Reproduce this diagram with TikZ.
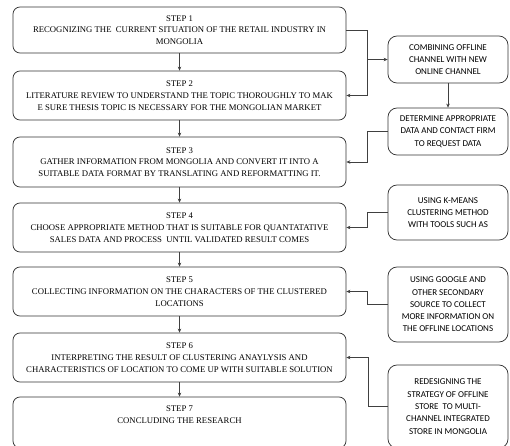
\documentclass[tikz,border=0pt]{standalone}
\usepackage{fontspec}
\setmainfont{Liberation Serif}
\newfontfamily\boxsans{Carlito}
\usetikzlibrary{arrows.meta,positioning}
\begin{document}
\begin{tikzpicture}[x=1pt,y=-1pt,
  stepbox/.style={draw=black!80,line width=0.75pt,rounded corners=7pt,minimum width=333pt,inner sep=0pt,align=center,font=\fontsize{8.7}{11.8}\selectfont},
  sidebox/.style={draw=black!80,line width=0.75pt,rounded corners=9pt,minimum width=120pt,inner sep=0pt,align=center,font=\boxsans\fontsize{9}{12.3}\selectfont},
  arr/.style={draw=black!75,line width=0.6pt,-{Stealth[length=4pt,width=3.5pt]}},
  ln/.style={draw=black!75,line width=0.6pt}]
\useasboundingbox (0,0) rectangle (510,445);
\clip (0,0) rectangle (510,445);
\node[stepbox,minimum height=46pt] (S1) at (179.5,30) {STEP 1\\RECOGNIZING THE\ \ CURRENT SITUATION OF THE RETAIL INDUSTRY IN\\MONGOLIA};
\node[stepbox,minimum height=49pt] (S2) at (179.5,95.5) {STEP 2\\LITERATURE REVIEW TO UNDERSTAND THE TOPIC THOROUGHLY TO MAK\\E SURE THESIS TOPIC IS NECESSARY FOR THE MONGOLIAN MARKET};
\node[stepbox,minimum height=50pt] (S3) at (179.5,162) {STEP 3\\GATHER INFORMATION FROM MONGOLIA AND CONVERT IT INTO A\\SUITABLE DATA FORMAT BY TRANSLATING AND REFORMATTING IT.};
\node[stepbox,minimum height=49pt] (S4) at (179.5,227.5) {STEP 4\\CHOOSE APPROPRIATE METHOD THAT IS SUITABLE FOR QUANTATATIVE\\SALES DATA AND PROCESS\ \ UNTIL VALIDATED RESULT COMES};
\node[stepbox,minimum height=49pt] (S5) at (179.5,291.5) {STEP 5\\COLLECTING INFORMATION ON THE CHARACTERS OF THE CLUSTERED\\LOCATIONS};
\node[stepbox,minimum height=49pt] (S6) at (179.5,357.5) {STEP 6\\INTERPRETING THE RESULT OF CLUSTERING ANAYLYSIS AND\\CHARACTERISTICS OF LOCATION TO COME UP WITH SUITABLE SOLUTION};
\node[stepbox,minimum height=51pt] (S7) at (179.5,422.5) {};
\node[align=center,font=\fontsize{8.7}{11.8}\selectfont,inner sep=0pt] (T7) at (179.5,415) {STEP 7\\CONCLUDING THE RESEARCH};

\node[sidebox,minimum height=47pt] (R1) at (448,59.5) {COMBINING OFFLINE\\CHANNEL WITH NEW\\ONLINE CHANNEL};
\node[sidebox,minimum height=47pt] (R2) at (448,131.5) {DETERMINE APPROPRIATE\\DATA AND CONTACT FIRM\\TO REQUEST DATA};
\node[sidebox,minimum height=55pt] (R3) at (448,212.5) {USING K-MEANS\\CLUSTERING METHOD\\WITH TOOLS SUCH AS};
\node[sidebox,minimum height=75pt] (R4) at (448,304.5) {USING GOOGLE AND\\OTHER SECONDARY\\SOURCE TO COLLECT\\MORE INFORMATION ON\\THE OFFLINE LOCATIONS};
\node[sidebox,minimum height=83pt] (R5) at (448,406.5) {REDESIGNING THE\\STRATEGY OF OFFLINE\\STORE\ \ TO MULTI-\\CHANNEL INTEGRATED\\STORE IN MONGOLIA};

\draw[arr] (S1) -- (S2);
\draw[arr] (S2) -- (S3);
\draw[arr] (S3) -- (S4);
\draw[arr] (S4) -- (S5);
\draw[arr] (S5) -- (S6);
\draw[arr] (S6) -- (S7);

\coordinate (J1) at ([xshift=21pt]S2.east);
\draw[arr] (S1.east) -| (J1) -- (S2.east);
\draw[arr] (J1 |- R1.west) -- (R1.west);
\draw[arr] (R1) -- (R2);
\draw[arr] (R2.west) -| ([xshift=21pt]S3.east) -- (S3.east);
\draw[arr] (R3.west) -| ([xshift=21pt]S4.east) -- (S4.east);
\draw[arr] (R4.west) -| ([xshift=21pt]S5.east) -- (S5.east);
\draw[arr] (R5.west) -| ([xshift=22pt]S6.east) -- (S6.east);
\end{tikzpicture}
\end{document}
